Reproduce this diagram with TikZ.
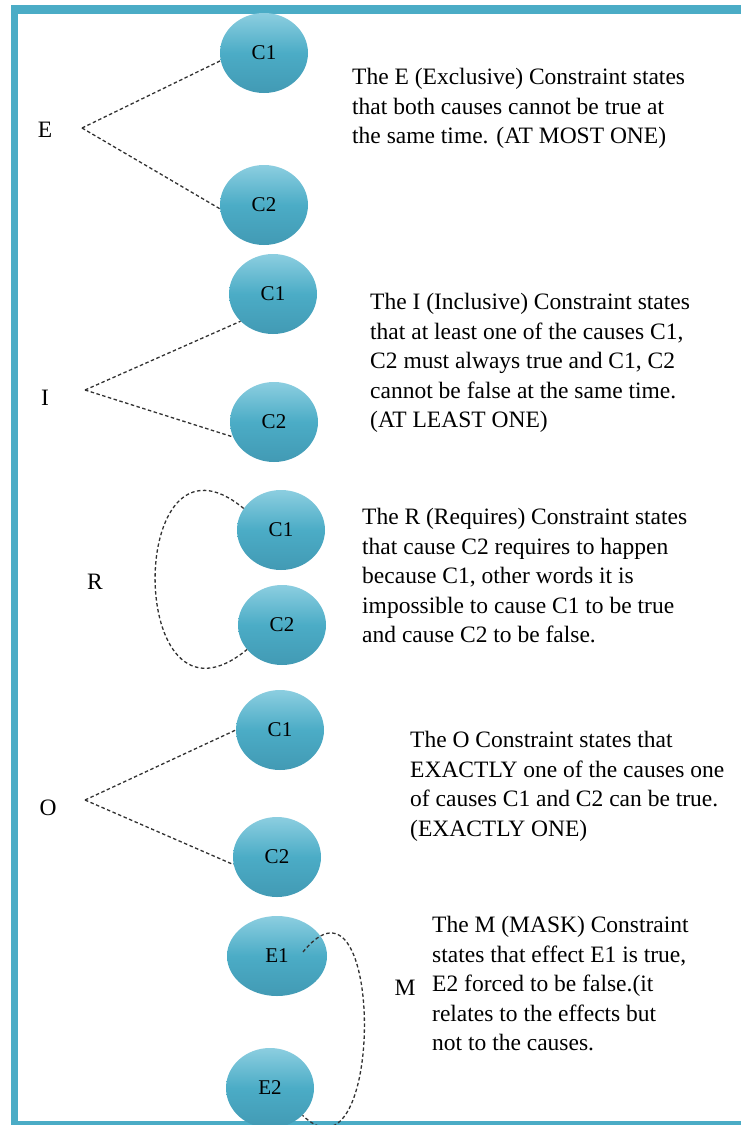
\documentclass[tikz,border=0pt]{standalone}
\usepackage{fontspec}
\setmainfont{Liberation Serif}
\usepackage{tikz}
\usetikzlibrary{shapes}

\definecolor{frameblue}{RGB}{75,172,198}
\definecolor{balltop}{RGB}{140,206,224}
\definecolor{ballbot}{RGB}{66,154,180}
\definecolor{linegray}{RGB}{50,50,50}

\begin{document}
\begin{tikzpicture}[x=1pt,y=-1pt,
  cause/.style={ellipse,minimum width=88pt,minimum height=80pt,inner sep=0pt,
    top color=balltop,bottom color=ballbot,middle color=frameblue,
    font=\fontsize{21}{21}\selectfont},
  desc/.style={anchor=north west,align=left,inner sep=0pt,
    font=\fontsize{23.5}{29.5}\selectfont},
  kind/.style={inner sep=0pt,font=\fontsize{23.5}{28}\selectfont},
  link/.style={draw=linegray,line width=1.3pt,dash pattern=on 3.5pt off 2.5pt}]

\useasboundingbox (0,0) rectangle (741,1125);

% frame
\fill[frameblue] (11,5) rectangle (741,14);
\fill[frameblue] (11,5) rectangle (18,1125);
\fill[frameblue] (11,1121) rectangle (741,1125);

% E
\node[kind] (le) at (45,130) {E};
\coordinate (je) at (82,128);
\node[cause] (ec1) at (264,53) {C1};
\node[cause] (ec2) at (264,205) {C2};
\draw[link] (je) -- (ec1.190);
\draw[link] (je) -- (ec2.185);
\node[desc] (te) at (352,68) {The E (Exclusive) Constraint states\\
  that both causes cannot be true at\\the same time. (AT MOST ONE)};

% I
\node[kind] (li) at (45,398) {I};
\coordinate (ji) at (85,390);
\node[cause] (ic1) at (273,294) {C1};
\node[cause] (ic2) at (274,422) {C2};
\draw[link] (ji) -- (ic1.220);
\draw[link] (ji) -- (ic2.200);
\node[desc] (ti) at (370,293) {The I (Inclusive) Constraint states\\
  that at least one of the causes C1,\\C2 must always true and C1, C2\\
  cannot be false at the same time.\\(AT LEAST ONE)};

% R
\node[kind] (lr) at (95,582) {R};
\node[cause] (rc1) at (281,530) {C1};
\node[cause] (rc2) at (282,625) {C2};
\draw[link] (rc1.150) .. controls (125,410) and (125,750) .. (rc2.215);
\node[desc] (tr) at (362,508) {The R (Requires) Constraint states\\
  that cause C2 requires to happen\\because C1, other words it is\\
  impossible to cause C1 to be true\\and cause C2 to be false.};

% O
\node[kind] (lo) at (48,808) {O};
\coordinate (jo) at (85,800);
\node[cause] (oc1) at (280,730) {C1};
\node[cause] (oc2) at (277,857) {C2};
\draw[link] (jo) -- (oc1.west);
\draw[link] (jo) -- (oc2.190);
\node[desc] (to) at (410,731) {The O Constraint states that\\
  EXACTLY one of the causes one\\of causes C1 and C2 can be true.\\
  (EXACTLY ONE)};

% M
\node[kind] (lm) at (405,988) {M};
\node[cause,minimum width=100pt] (me1) at (277,956) {E1};
\node[cause] (me2) at (270,1088) {E2};
\coordinate (ms) at (303,952);
\draw[link] (ms) .. controls (385,850) and (385,1195) .. (me2.320);
\node[desc] (tm) at (432,916) {The M (MASK) Constraint\\
  states that effect E1 is true,\\E2 forced to be false.(it\\
  relates to the effects but\\not to the causes.};

\end{tikzpicture}
\end{document}
